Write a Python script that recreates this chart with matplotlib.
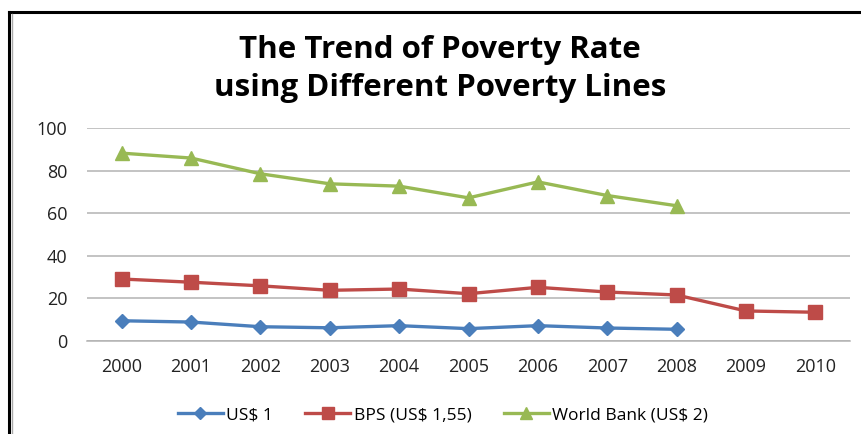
import matplotlib
matplotlib.use("Agg")
import matplotlib.pyplot as plt
from matplotlib.lines import Line2D

plt.rcParams['font.family'] = ['Open Sans', 'DejaVu Sans']

years = ['2000', '2001', '2002', '2003', '2004', '2005', '2006', '2007', '2008', '2009', '2010']
usd1 = [9.5, 8.9, 6.7, 6.2, 7.2, 5.8, 7.2, 6.1, 5.5]
bps = [29.1, 27.6, 25.9, 23.8, 24.4, 22.2, 25.2, 23.0, 21.6, 14.1, 13.5]
world_bank = [88.2, 85.9, 78.5, 73.8, 72.7, 67.2, 74.7, 68.3, 63.5]
y_ticks = [0, 20, 40, 60, 80, 100]

blue = '#4A7EBB'
red = '#BE4B48'
green = '#98B954'

fig = plt.figure(figsize=(8.61, 4.34), dpi=100)
ax = fig.add_axes([87 / 861, 1 - 341 / 434, (850 - 87) / 861, (341 - 128) / 434])

x_all = list(range(len(years)))
ax.plot(x_all[:len(usd1)], usd1, color=blue, lw=2.4, marker='D', ms=7.5,
        mfc=blue, mec=blue, label='US$ 1', zorder=3)
ax.plot(x_all[:len(bps)], bps, color=red, lw=2.4, marker='s', ms=9.5,
        mfc=red, mec=red, label='BPS (US$ 1,55)', zorder=3)
ax.plot(x_all[:len(world_bank)], world_bank, color=green, lw=2.4, marker='^', ms=9.5,
        mfc=green, mec=green, label='World Bank (US$ 2)', zorder=3)

ax.set_xlim(-0.5, len(years) - 0.5)
ax.set_ylim(0, 100)
ax.set_yticks(y_ticks)
ax.set_xticks(x_all)
ax.set_xticklabels(years)
ax.yaxis.grid(True, color='#B3B3B3', lw=1.1)
ax.set_axisbelow(True)
for side in ['top', 'right', 'left']:
    ax.spines[side].set_visible(False)
ax.spines['bottom'].set_color('#B3B3B3')
ax.spines['bottom'].set_linewidth(1.1)
ax.tick_params(axis='both', length=0, labelsize=13, colors='#222222')
ax.tick_params(axis='y', pad=14)
ax.tick_params(axis='x', pad=12)

fig.text(440 / 861, 1 - 50 / 434, 'The Trend of Poverty Rate', ha='center', va='center',
         fontsize=22.5, fontweight='bold', color='black')
fig.text(440 / 861, 1 - 88 / 434, 'using Different Poverty Lines', ha='center', va='center',
         fontsize=22.5, fontweight='bold', color='black')

handles, labels = ax.get_legend_handles_labels()
fig.legend(handles, labels, loc='center', bbox_to_anchor=(443 / 861, 1 - 415 / 434),
           ncol=3, frameon=False, fontsize=12.5, handlelength=2.6, handletextpad=0.2,
           columnspacing=1.85, markerscale=0.85)

# frame lines along the top and left edges
fig.add_artist(Line2D([9 / 861, 1], [1 - 12 / 434, 1 - 12 / 434], color='black', lw=2.2,
                      transform=fig.transFigure))
fig.add_artist(Line2D([9 / 861, 9 / 861], [0, 1 - 12 / 434], color='black', lw=2.2,
                      transform=fig.transFigure))
fig.add_artist(Line2D([11.5 / 861, 11.5 / 861], [0, 1 - 13.5 / 434], color='#AAAAAA', lw=1,
                      transform=fig.transFigure))

fig.savefig('out.png', dpi=100, facecolor='white')
